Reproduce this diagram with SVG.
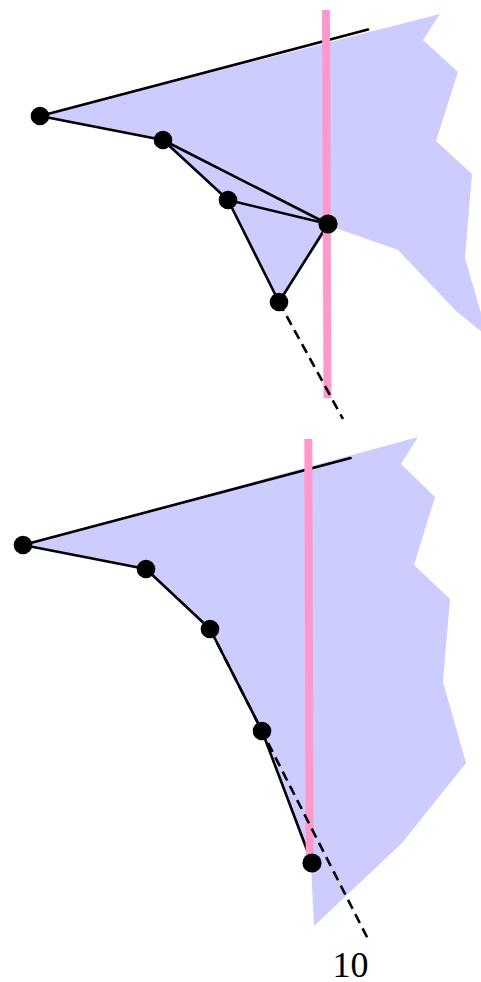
<svg xmlns="http://www.w3.org/2000/svg" width="481" height="982" viewBox="0 0 481 982">
<style>
.region{fill:#ccccff;stroke:none}
.edge{stroke:#000;stroke-width:2.6;fill:none;stroke-linecap:round}
.dash{stroke:#000;stroke-width:2.6;fill:none;stroke-dasharray:10,6}
.bar{stroke:#ff99cc;stroke-width:8;fill:none}
.node{fill:#000}
.label{font-family:"Liberation Serif","Times New Roman",serif;font-size:36px;fill:#000}
</style>
<rect width="481" height="982" fill="#fff"/>
<g id="regions">
<polygon class="region" points="40,116 440,14 423,40 458,72 436,141 472,174 465,258 488,337 456,311 398,250 330,226 279,302 228,200 163,140"/>
<polygon class="region" points="23,545 418,437 401,464 435,497 414,565 450,599 443,682 466,763 402,843 314,926 311,866 262,731 210,629 146,569"/>
</g>
<g id="connectors">
<line class="edge" x1="40" y1="116" x2="368" y2="29.5"/>
<line class="edge" x1="40" y1="116" x2="163" y2="140"/>
<line class="edge" x1="163" y1="140" x2="228" y2="200"/>
<line class="edge" x1="163" y1="140" x2="328" y2="224"/>
<line class="edge" x1="228" y1="200" x2="328" y2="224"/>
<line class="edge" x1="228" y1="200" x2="279" y2="302"/>
<line class="edge" x1="328" y1="224" x2="279" y2="302"/>
<line class="edge" x1="23" y1="545" x2="350.5" y2="458"/>
<line class="edge" x1="23" y1="545" x2="146" y2="569"/>
<line class="edge" x1="146" y1="569" x2="210" y2="629"/>
<line class="edge" x1="210" y1="629" x2="262" y2="731"/>
<line class="edge" x1="262" y1="731" x2="312" y2="863"/>
</g>
<g id="bars">
<line class="bar" x1="326" y1="10" x2="327.5" y2="398.3"/>
<line class="bar" x1="308.3" y1="439" x2="309.7" y2="856"/>
</g>
<g id="dashed">
<line class="dash" x1="279" y1="302" x2="343" y2="419"/>
<line class="dash" x1="210" y1="629" x2="369.5" y2="942"/>
</g>
<g id="n1"><circle class="node" cx="40" cy="116" r="9.3"/></g>
<g id="n2"><circle class="node" cx="163" cy="140" r="9.3"/></g>
<g id="n3"><circle class="node" cx="228" cy="200" r="9.3"/></g>
<g id="n4"><circle class="node" cx="328" cy="224" r="9.6"/></g>
<g id="n5"><circle class="node" cx="279" cy="302" r="9.3"/></g>
<g id="m1"><circle class="node" cx="23" cy="545" r="9.3"/></g>
<g id="m2"><circle class="node" cx="146" cy="569" r="9.3"/></g>
<g id="m3"><circle class="node" cx="210" cy="629" r="9.3"/></g>
<g id="m4"><circle class="node" cx="262" cy="731" r="9.3"/></g>
<g id="m5"><circle class="node" cx="312" cy="863" r="9.6"/></g>
<text class="label" x="350.5" y="977" text-anchor="middle">10</text>
</svg>
